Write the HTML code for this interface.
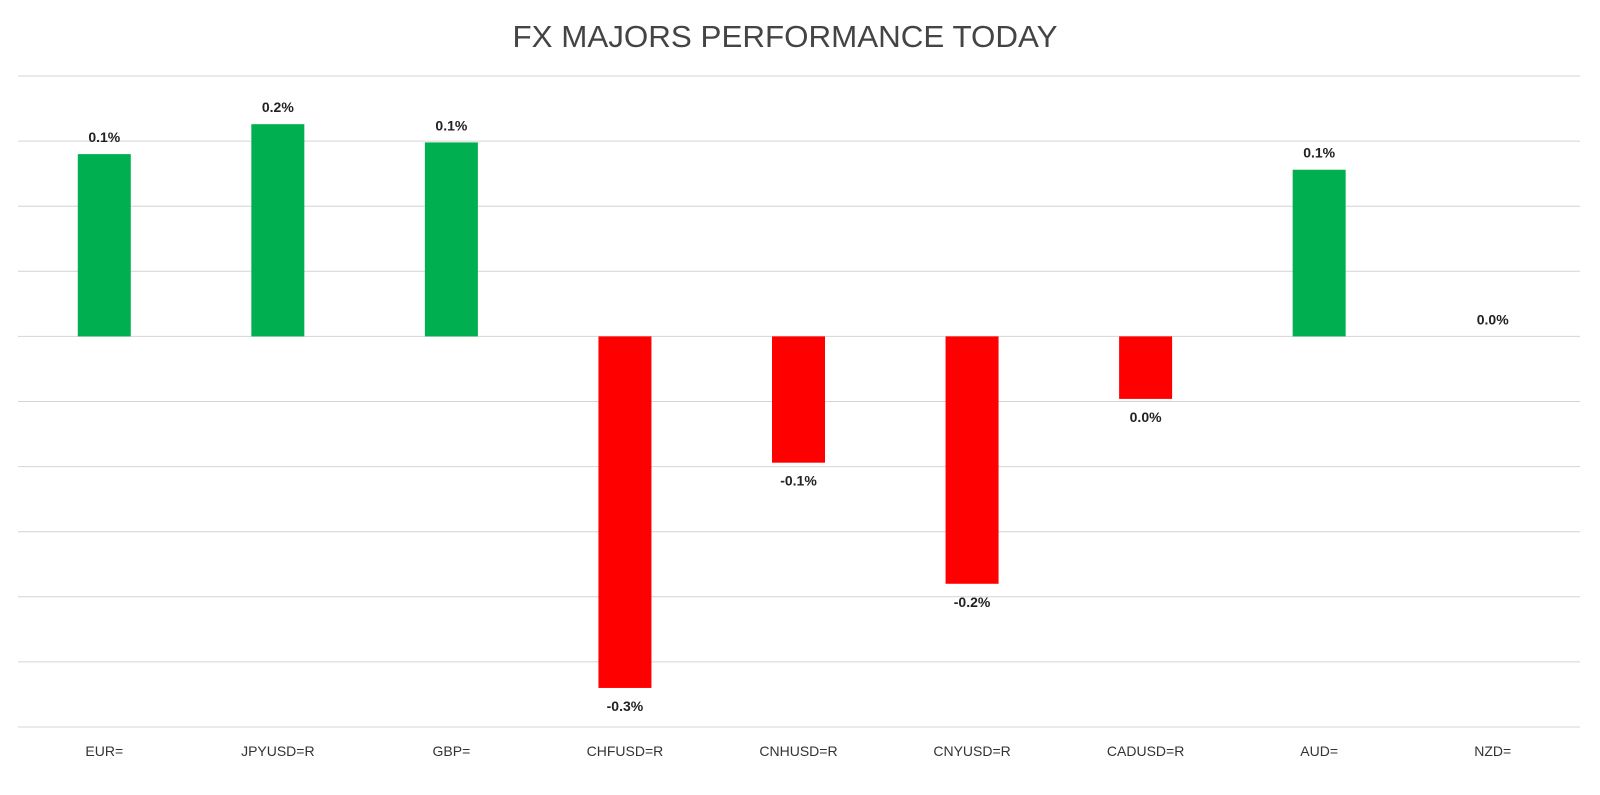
<!DOCTYPE html>
<html><head><meta charset="utf-8">
<style>
html,body{margin:0;padding:0;background:#fff;}
body{width:1600px;height:790px;overflow:hidden;font-family:"Liberation Sans",sans-serif;}
</style></head>
<body>
<svg id="chart" width="1600" height="790" xmlns="http://www.w3.org/2000/svg">
<text x="785" y="47" text-anchor="middle" font-family="Liberation Sans, sans-serif" font-size="31" fill="#444" textLength="545" lengthAdjust="spacingAndGlyphs">FX MAJORS PERFORMANCE TODAY</text>
<g id="grid"></g><g id="bars"></g><g id="labels"></g><g id="xlabels"></g>
</svg>
<script>
const categories = ["EUR=","JPYUSD=R","GBP=","CHFUSD=R","CNHUSD=R","CNYUSD=R","CADUSD=R","AUD=","NZD="];
const values = [0.14,0.163,0.149,-0.27,-0.097,-0.19,-0.048,0.128,0.0];
const printedLabels = ["0.1%","0.2%","0.1%","-0.3%","-0.1%","-0.2%","0.0%","0.1%","0.0%"];
const ticks = [0.2,0.15,0.1,0.05,0,-0.05,-0.1,-0.15,-0.2,-0.25,-0.3];
const NS="http://www.w3.org/2000/svg";
const x0=18,x1=1580,yTop=76,yBot=727,vMax=0.2,vMin=-0.3;
const y=v=>yTop+(vMax-v)/(vMax-vMin)*(yBot-yTop);
const band=(x1-x0)/categories.length;
const xc=i=>x0+band*(i+0.5)-0.5;
const bw=53;
function mk(tag,attrs,parent){const e=document.createElementNS(NS,tag);for(const k in attrs)e.setAttribute(k,attrs[k]);document.getElementById(parent).appendChild(e);return e;}
ticks.forEach((t,i)=>{
  const l=mk("line",{x1:x0,x2:x1,y1:y(t),y2:y(t),stroke:"#d4d4d4","stroke-width":1},"grid");
  
  
});
categories.forEach((c,i)=>{
  const v=values[i];
  const top=Math.min(y(v),y(0)),h=Math.abs(y(v)-y(0));
  const r=mk("rect",{x:xc(i)-bw/2,y:top,width:bw,height:h,fill:v>=0?"#00b050":"#ff0000"},"bars");
  
  
  const ly=v>0?y(v)-12:(v<0?y(v)+23:y(0)-12);
  const t=mk("text",{x:xc(i),y:ly,"text-anchor":"middle","font-size":"14","font-weight":"bold",fill:"#222"},"labels");
  t.textContent=printedLabels[i];
  
  
  const xl=mk("text",{x:xc(i),y:756,"text-anchor":"middle","font-size":"14",fill:"#333"},"xlabels");
  xl.textContent=c;
  
  
});
</script>
</body></html>
